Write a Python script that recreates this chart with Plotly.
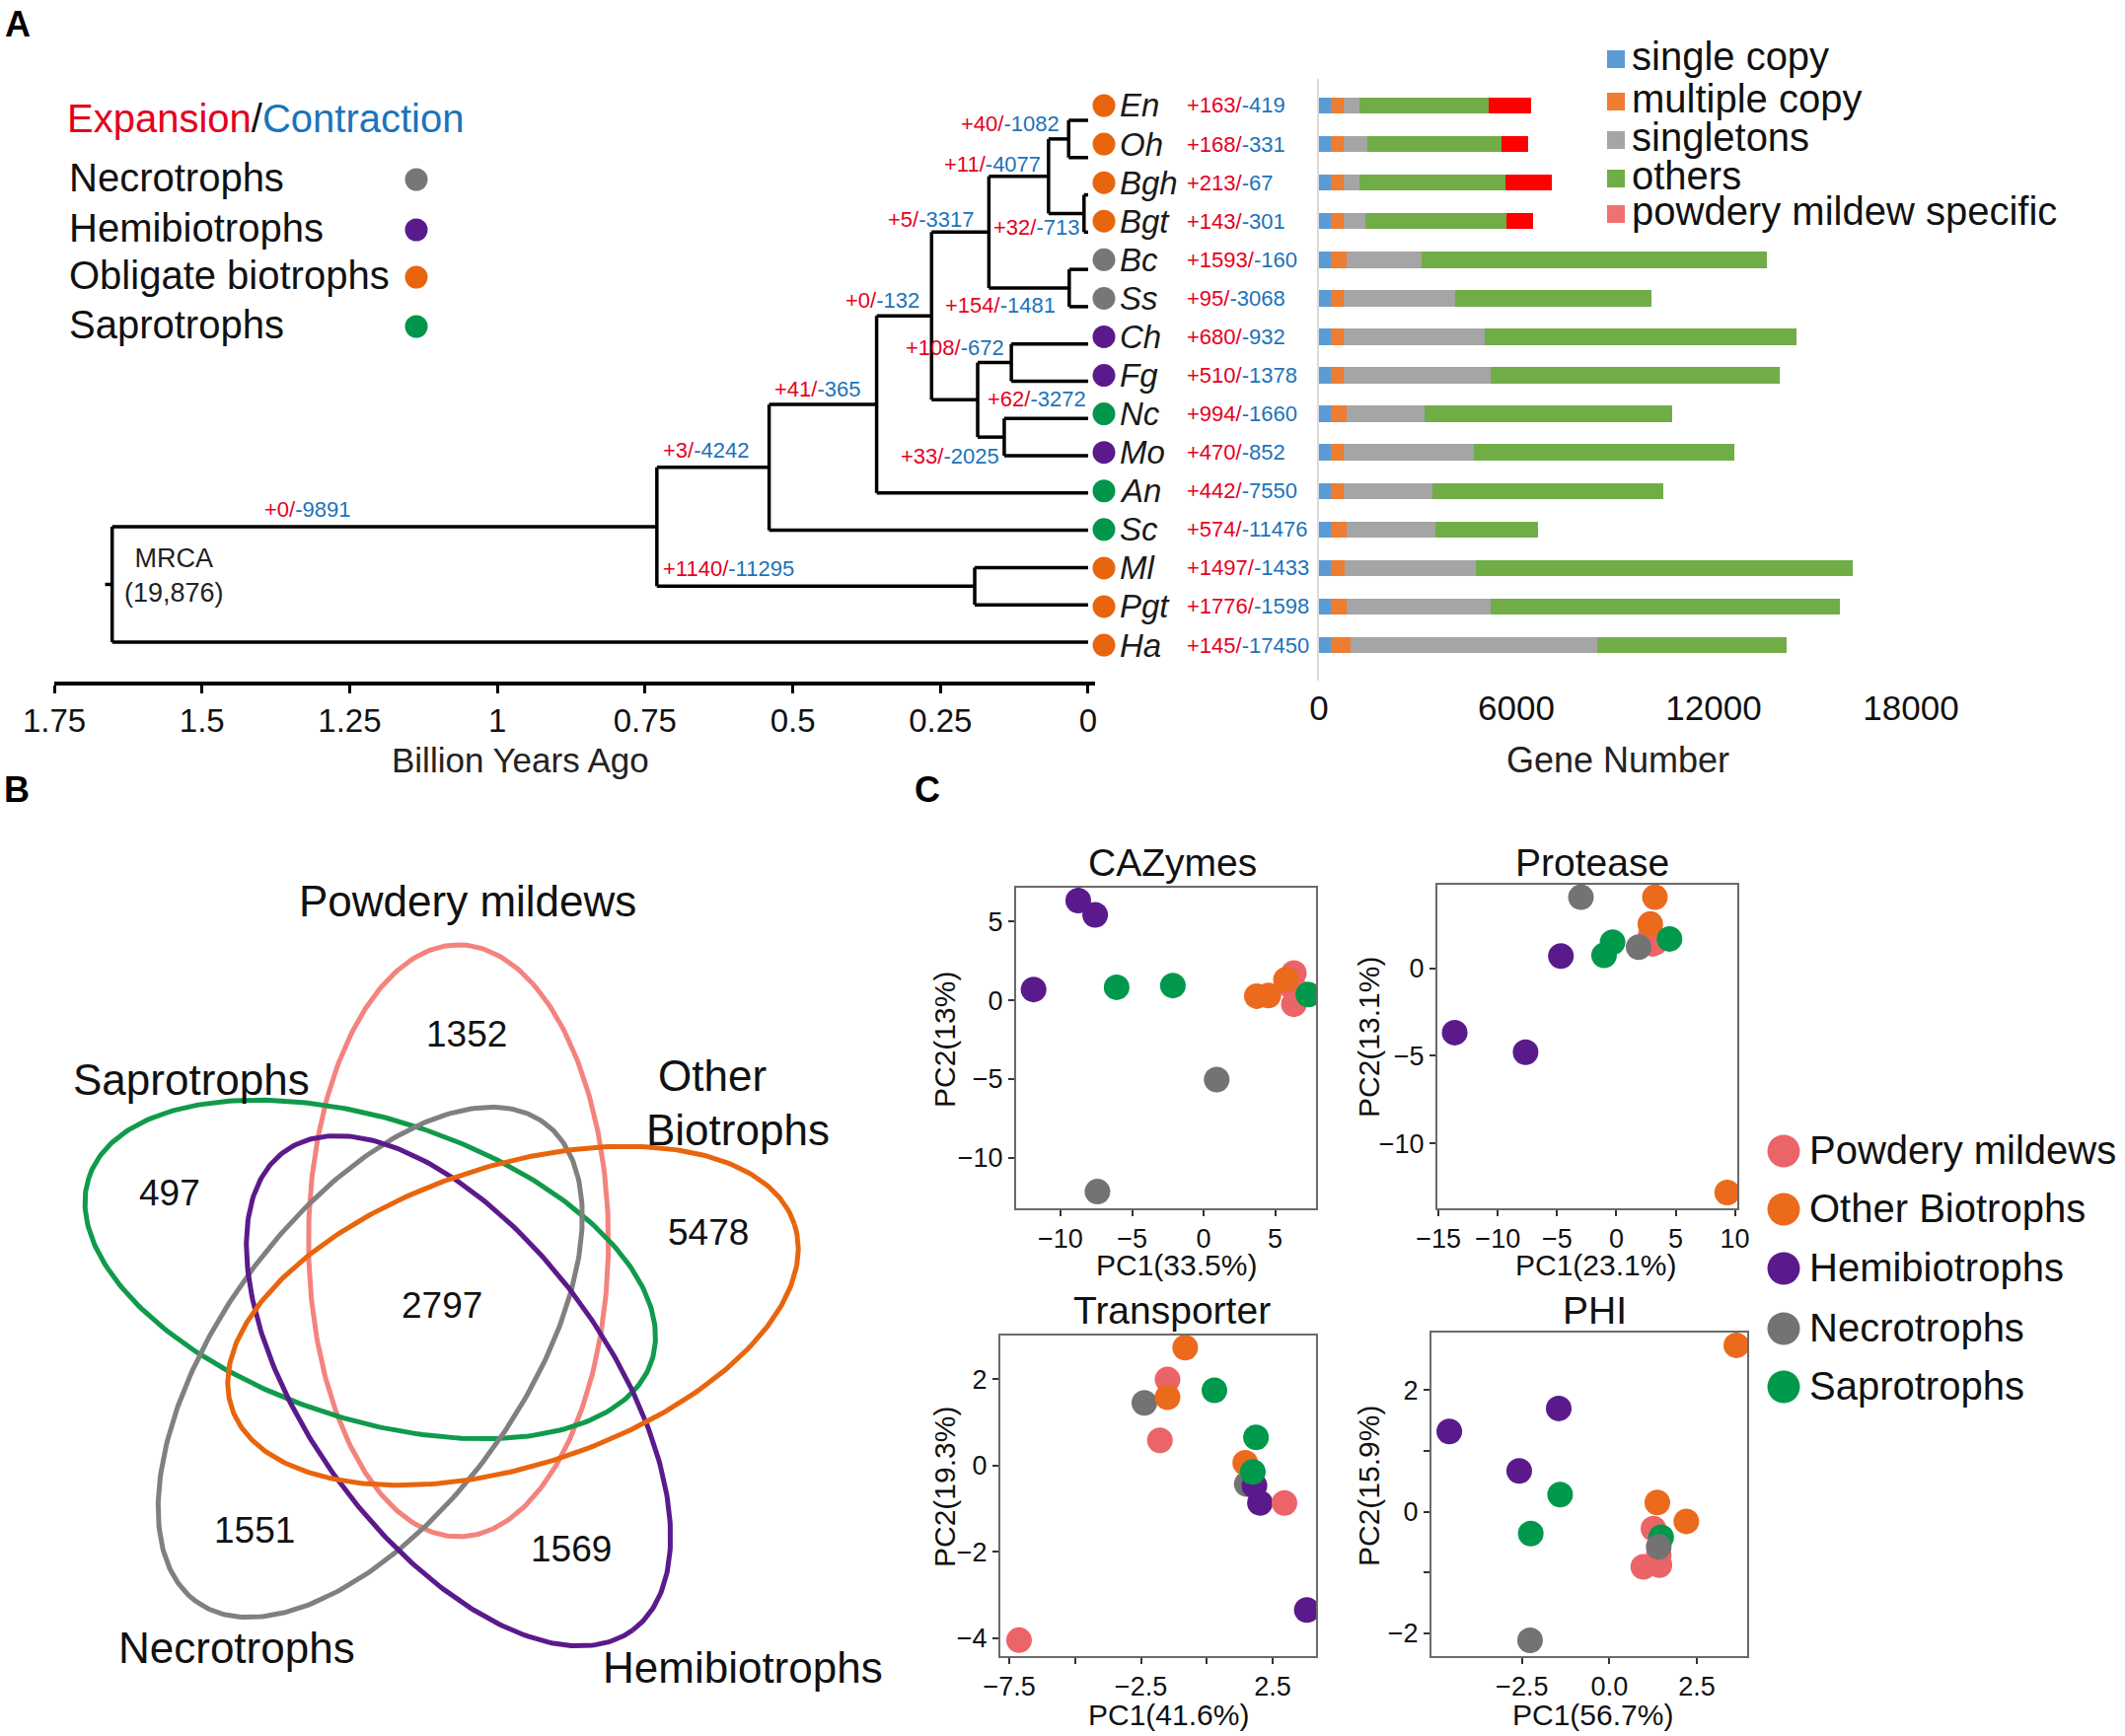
import numpy as np
import plotly.graph_objects as go

W, H = 2154, 1760
FONT = "Liberation Sans, Arial, Helvetica, sans-serif"
RED = "#e5001e"
BLUE = "#1c73b9"

# ---------------- Panel A data ----------------
species = ["En", "Oh", "Bgh", "Bgt", "Bc", "Ss", "Ch", "Fg", "Nc", "Mo", "An", "Sc", "Ml", "Pgt", "Ha"]
lifestyle = ["Obligate biotrophs", "Obligate biotrophs", "Obligate biotrophs", "Obligate biotrophs",
             "Necrotrophs", "Necrotrophs", "Hemibiotrophs", "Hemibiotrophs", "Saprotrophs",
             "Hemibiotrophs", "Saprotrophs", "Saprotrophs", "Obligate biotrophs",
             "Obligate biotrophs", "Obligate biotrophs"]
expansion = [163, 168, 213, 143, 1593, 95, 680, 510, 994, 470, 442, 574, 1497, 1776, 145]
contraction = [419, 331, 67, 301, 160, 3068, 932, 1378, 1660, 852, 7550, 11476, 1433, 1598, 17450]

bar_series = ["single copy", "multiple copy", "singletons", "others", "powdery mildew specific"]
single_copy = [360, 360, 360, 360, 360, 360, 360, 360, 360, 360, 360, 360, 360, 360, 360]
multiple_copy = [390, 390, 390, 390, 470, 390, 390, 390, 470, 390, 390, 470, 430, 490, 600]
singletons = [490, 720, 490, 650, 2280, 3400, 4290, 4480, 2390, 3950, 2700, 2700, 3970, 4370, 7500]
others = [3930, 4080, 4420, 4290, 10520, 5960, 9490, 8790, 7520, 7940, 7010, 3130, 11470, 10630, 5750]
pm_specific = [1290, 820, 1430, 820, 0, 0, 0, 0, 0, 0, 0, 0, 0, 0, 0]

# tree: (node age in billion years, children); leaves are species names
tree = (1.652, [
    (0.730, [
        (0.540, [
            (0.358, [
                (0.265, [
                    (0.168, [
                        (0.067, [(0.033, ["En", "Oh"]), (0.007, ["Bgh", "Bgt"])]),
                        (0.032, ["Bc", "Ss"]),
                    ]),
                    (0.187, [(0.130, ["Ch", "Fg"]), (0.142, ["Nc", "Mo"])]),
                ]),
                "An",
            ]),
            "Sc",
        ]),
        (0.192, ["Ml", "Pgt"]),
    ]),
    "Ha",
])

branch_gain = [0, 3, 1140, 41, 0, 5, 11, 40, 32, 154, 108, 62, 33]
branch_loss = [9891, 4242, 11295, 365, 132, 3317, 4077, 1082, 713, 1481, 672, 3272, 2025]

age_ticks = [1.75, 1.5, 1.25, 1, 0.75, 0.5, 0.25, 0]
age_tick_text = ["1.75", "1.5", "1.25", "1", "0.75", "0.5", "0.25", "0"]
gene_ticks = [0, 6000, 12000, 18000]
gene_tick_text = ["0", "6000", "12000", "18000"]

# ---------------- Panel B data ----------------
venn_sets = ["Powdery mildews", "Saprotrophs", "Necrotrophs", "Hemibiotrophs", "Other Biotrophs"]
venn_unique = [1352, 497, 1551, 1569, 5478]
venn_core = 2797

# ---------------- Panel C data ----------------
groups = ["Powdery mildews", "Other Biotrophs", "Hemibiotrophs", "Necrotrophs", "Saprotrophs"]
PM, OB, HB, NE, SA = groups

caz_x = [6.3, 6.3, 6.1, 6.5, 3.71, 4.52, 5.75, -8.76, -7.58, -11.88, 0.91, -7.42, -6.08, -2.15, 7.31]
caz_y = [1.73, -0.25, 0.9, 0.6, 0.27, 0.31, 1.31, 6.34, 5.43, 0.69, -5.03, -12.14, 0.83, 0.94, 0.37]
caz_g = [PM, PM, PM, PM, OB, OB, OB, HB, HB, HB, NE, NE, SA, SA, SA]

pro_x = [3.05, 3.3, 2.9, 3.2, 3.25, 2.86, 9.35, -4.68, -13.64, -7.66, -2.99, 1.88, 4.48, -0.32, -1.04]
pro_y = [1.41, 1.5, 1.9, 1.6, 4.08, 2.54, -12.82, 0.71, -3.67, -4.79, 4.08, 1.22, 1.69, 1.50, 0.75]
pro_g = [PM, PM, PM, PM, OB, OB, OB, HB, HB, HB, NE, NE, SA, SA, SA]

tra_x = [-2.37, -1.49, -1.49, -0.82, 0.29, -1.78, 1.46, 1.52, 1.81, 2.02, 2.95, 1.75, 1.87, 3.80, -7.13]
tra_y = [1.45, 1.99, 1.58, 2.73, 1.74, 0.58, 0.06, -0.43, -0.47, -0.87, -0.87, -0.15, 0.65, -3.35, -4.05]
tra_g = [NE, PM, OB, OB, SA, PM, OB, NE, HB, HB, PM, SA, SA, HB, PM]

phi_x = [0.97, 1.43, 1.41, 1.26, 3.63, 1.37, 2.20, -4.58, -1.45, -2.58, -1.41, -2.25, 1.48, 1.41, -2.27]
phi_y = [-0.91, -0.88, -0.72, -0.28, 2.74, 0.15, -0.16, 1.32, 1.70, 0.67, 0.28, -0.36, -0.42, -0.58, -2.12]
phi_g = [PM, PM, PM, PM, OB, OB, OB, HB, HB, HB, SA, SA, SA, NE, NE]

pca_titles = ["CAZymes", "Protease", "Transporter", "PHI"]
pc1_labels = ["PC1(33.5%)", "PC1(23.1%)", "PC1(41.6%)", "PC1(56.7%)"]
pc2_labels = ["PC2(13%)", "PC2(13.1%)", "PC2(19.3%)", "PC2(15.9%)"]
caz_xt, caz_xl = [-10, -5, 0, 5], ["\u221210", "\u22125", "0", "5"]
caz_yt, caz_yl = [-10, -5, 0, 5], ["\u221210", "\u22125", "0", "5"]
pro_xt, pro_xl = [-15, -10, -5, 0, 5, 10], ["\u221215", "\u221210", "\u22125", "0", "5", "10"]
pro_yt, pro_yl = [-10, -5, 0], ["\u221210", "\u22125", "0"]
tra_xt, tra_xl = [-7.5, -5, -2.5, 0, 2.5], ["\u22127.5", "", "\u22122.5", "", "2.5"]
tra_yt, tra_yl = [-4, -2, 0, 2], ["\u22124", "\u22122", "0", "2"]
phi_xt, phi_xl = [-2.5, 0, 2.5], ["\u22122.5", "0.0", "2.5"]
phi_yt, phi_yl = [-2, -1, 0, 1, 2], ["\u22122", "", "0", "", "2"]

# ---------------- styles ----------------
life_colors = {"Necrotrophs": "#777777", "Hemibiotrophs": "#5b1a8c",
               "Obligate biotrophs": "#e8650d", "Saprotrophs": "#00964b"}
group_colors = {PM: "#eb6468", OB: "#ec6a1c", HB: "#5b1a8c", NE: "#737373", SA: "#00994c"}
bar_colors = ["#5b9bd5", "#ed7d31", "#a5a5a5", "#70ad47", "#ff0000"]
bar_legend_colors = ["#5b9bd5", "#ed7d31", "#a5a5a5", "#70ad47", "#ef7272"]
venn_colors = ["#f4837d", "#109a4b", "#808080", "#5b1a8c", "#e8650d"]


def dom_x(a, b):
    return [a / W, b / W]


def dom_y(top, bottom):
    return [1 - bottom / H, 1 - top / H]


fig = go.Figure()
annotations = []


def ann(text, x, y, size, color="black", xanchor="center", yanchor="middle", xref="paper",
        yref="paper", angle=0, family=FONT):
    if xref == "paper":
        x = x / W
    if yref == "paper":
        y = 1 - y / H
    annotations.append(dict(text=text, x=x, y=y, xref=xref, yref=yref, showarrow=False,
                            xanchor=xanchor, yanchor=yanchor, textangle=angle,
                            font=dict(size=size, color=color, family=family)))


def gl(g, l):
    return f"<span style='color:{RED}'>+{g}/</span><span style='color:{BLUE}'>-{l}</span>"


# ---------------- Panel A : tree ----------------
tx, ty = [], []


def place(node):
    if isinstance(node, str):
        return 0.0, -species.index(node)
    age, children = node
    ys = []
    for ch in children:
        cx, cy = place(ch)
        tx.extend([age, cx, None])
        ty.extend([cy, cy, None])
        ys.append(cy)
    tx.extend([age, age, None])
    ty.extend([min(ys), max(ys), None])
    return age, (ys[0] + ys[-1]) / 2


root_age, root_y = place(tree)
tx.extend([root_age + 0.012, root_age, None])
ty.extend([root_y, root_y, None])

fig.add_trace(go.Scatter(x=tx, y=ty, mode="lines", line=dict(color="black", width=3.5),
                         xaxis="x", yaxis="y", hoverinfo="skip", showlegend=False))

branch_label_pos = [(1.322, 10.45), (0.647, 8.86), (0.608, 12.04), (0.458, 7.20), (0.348, 4.82),
                    (0.267, 2.65), (0.162, 1.19), (0.132, 0.08), (0.088, 2.88), (0.148, 4.95),
                    (0.225, 6.09), (0.087, 7.49), (0.233, 9.02)]
for (bx, by), g, l in zip(branch_label_pos, branch_gain, branch_loss):
    ann(gl(g, l), bx, -by, 22, xref="x", yref="y")

ann("MRCA<br>(19,876)", (1103 - 175) / 600, -(583.5 - 122) / 37.79, 27, color="#222", xref="x", yref="y")

# ---------------- Panel A : bars ----------------
rows = [-i for i in range(len(species))]
for name, vals, col in zip(bar_series, [single_copy, multiple_copy, singletons, others, pm_specific],
                           bar_colors):
    fig.add_trace(go.Bar(x=vals, y=rows, orientation="h", width=0.42, name=name,
                         marker=dict(color=col, line=dict(width=0)),
                         xaxis="x2", yaxis="y2", showlegend=False, hoverinfo="skip"))

fig.add_trace(go.Scatter(x=[1119] * len(species), y=rows, mode="markers",
                         marker=dict(size=23, color=[life_colors[s] for s in lifestyle]),
                         xaxis="x3", yaxis="y2", hoverinfo="skip", showlegend=False, cliponaxis=False))
for r, sp, g, l in zip(rows, species, expansion, contraction):
    ann(f"<i>{sp}</i>", 1133, r, 33, color="#1a1a1a", xanchor="left", xref="x3", yref="y2")
    ann(gl(g, l), 1201, r, 22, xanchor="left", xref="x3", yref="y2")

# ---------------- legends (overlay pixel axis) ----------------
life_order = ["Necrotrophs", "Hemibiotrophs", "Obligate biotrophs", "Saprotrophs"]
life_leg_y = [182, 233, 281, 331]
fig.add_trace(go.Scatter(x=[422] * 4, y=life_leg_y, mode="markers",
                         marker=dict(size=23, color=[life_colors[k] for k in life_order]),
                         xaxis="x9", yaxis="y9", hoverinfo="skip", showlegend=False, cliponaxis=False))
ann(f"<span style='color:{RED}'>Expansion</span>/<span style='color:{BLUE}'>Contraction</span>",
    66, 120, 40, color="#111", xanchor="left")
for k, yy in zip(life_order, life_leg_y):
    ann(k, 68, yy - 2, 40, color="#111", xanchor="left")

bar_leg_y = [60, 103, 142, 181, 217]
fig.add_trace(go.Scatter(x=[1638] * 5, y=bar_leg_y, mode="markers",
                         marker=dict(size=18, symbol="square", color=bar_legend_colors),
                         xaxis="x9", yaxis="y9", hoverinfo="skip", showlegend=False, cliponaxis=False))
for name, yy in zip(bar_series, bar_leg_y):
    ann(name, 1652, yy - 3, 40, color="#111", xanchor="left")

pc_leg_y = [1167, 1226, 1286, 1347, 1406]
fig.add_trace(go.Scatter(x=[1808] * 5, y=pc_leg_y, mode="markers",
                         marker=dict(size=33, color=[group_colors[g] for g in groups]),
                         xaxis="x9", yaxis="y9", hoverinfo="skip", showlegend=False, cliponaxis=False))
for g, yy in zip(groups, pc_leg_y):
    ann(g, 1832, yy - 1, 40, color="#111", xanchor="left")

# axis titles of panel A
ann("Billion Years Ago", 527, 771, 35, color="#222")
ann("Gene Number", 1640, 771, 36, color="#222")

# panel letters
ann("<b>A</b>", 18, 24, 36)
ann("<b>B</b>", 17, 800, 36)
ann("<b>C</b>", 940, 800, 36)

# ---------------- Panel B : Venn ----------------
VC_X, VC_Y, VR, VA, VB = 440, 1334, 80, 300, 152
t = np.linspace(0, 2 * np.pi, 361)
for k, (name, col) in enumerate(zip(venn_sets, venn_colors)):
    phi = np.radians(72 + 72 * k)
    th = phi + np.radians(18)
    cx = VC_X + VR * np.cos(phi)
    cy = VC_Y - VR * np.sin(phi)
    ex, ey = VA * np.cos(t), VB * np.sin(t)
    xs = cx + ex * np.cos(th) - ey * np.sin(th)
    ys = cy - (ex * np.sin(th) + ey * np.cos(th))
    fig.add_trace(go.Scatter(x=xs, y=ys, mode="lines", line=dict(color=col, width=5),
                             xaxis="x4", yaxis="y4", hoverinfo="skip", showlegend=False))

venn_label_pos = [(474, 913), (194, 1094), (240, 1670), (753, 1690), (700, 1117)]
for name, (lx, ly) in zip(venn_sets, venn_label_pos):
    if name == "Other Biotrophs":
        ann("Other", 722, 1090, 44, color="#111")
        ann("Biotrophs", 748, 1145, 44, color="#111")
    else:
        ann(name, lx, ly, 44, color="#111")
venn_count_pos = [(473, 1048), (172, 1209), (258, 1551), (579, 1570), (718, 1249)]
for v, (cx_, cy_) in zip(venn_unique, venn_count_pos):
    ann(str(v), cx_, cy_, 37, color="#111")
ann(str(venn_core), 448, 1323, 37, color="#111")

# ---------------- Panel C : PCA ----------------
pca_data = [(caz_x, caz_y, caz_g), (pro_x, pro_y, pro_g), (tra_x, tra_y, tra_g), (phi_x, phi_y, phi_g)]
pca_dom = [((1030, 1334), (900, 1225)), ((1457, 1761), (897, 1225)),
           ((1014, 1334), (1354, 1679)), ((1451, 1771), (1351, 1679))]
pca_range = [((-13.1, 7.85), (-13.2, 7.15)), ((-15.1, 10.2), (-13.72, 4.79)),
             ((-7.84, 4.15), (-4.42, 3.01)), ((-5.09, 3.94), (-2.38, 2.95))]
pca_ticks = [(caz_xt, caz_xl, caz_yt, caz_yl), (pro_xt, pro_xl, pro_yt, pro_yl),
             (tra_xt, tra_xl, tra_yt, tra_yl), (phi_xt, phi_xl, phi_yt, phi_yl)]
title_pos = [(1188, 874), (1614, 874), (1188, 1328), (1616, 1328)]
pc1_pos = [(1192, 1282), (1618, 1282), (1184, 1738), (1614, 1738)]
pc2_pos = [(957, 1054), (1387, 1052), (957, 1508), (1387, 1507)]

layout_axes = {}
for i, ((px, py, pg), ((x0, x1), (y0, y1)), (xr, yr), (xt, xl, yt, yl)) in enumerate(
        zip(pca_data, pca_dom, pca_range, pca_ticks)):
    n = 5 + i
    fig.add_trace(go.Scatter(x=px, y=py, mode="markers",
                             marker=dict(size=26, color=[group_colors[g] for g in pg], line=dict(width=0)),
                             xaxis=f"x{n}", yaxis=f"y{n}", hoverinfo="skip", showlegend=False))
    common = dict(showline=True, mirror=True, linecolor="#6a6a6a", linewidth=2, ticks="outside",
                  ticklen=6, tickwidth=2, tickcolor="#333", tickfont=dict(size=27, color="#111"),
                  showgrid=False, zeroline=False, automargin=False)
    layout_axes[f"xaxis{n}"] = dict(domain=dom_x(x0, x1), range=list(xr), anchor=f"y{n}",
                                    tickvals=xt, ticktext=xl, **common)
    layout_axes[f"yaxis{n}"] = dict(domain=dom_y(y0, y1), range=list(yr), anchor=f"x{n}",
                                    tickvals=yt, ticktext=yl, **common)
    ann(pca_titles[i], title_pos[i][0], title_pos[i][1], 39, color="#111")
    ann(pc1_labels[i], pc1_pos[i][0], pc1_pos[i][1], 30, color="#111")
    ann(pc2_labels[i], pc2_pos[i][0], pc2_pos[i][1], 30, color="#111", angle=-90)

# ---------------- layout ----------------
fig.update_layout(
    width=W, height=H, margin=dict(l=0, r=0, t=0, b=0, pad=0, autoexpand=False),
    paper_bgcolor="white", plot_bgcolor="rgba(0,0,0,0)",
    font=dict(family=FONT, color="#111"),
    showlegend=False, barmode="stack", bargap=0,
    xaxis=dict(domain=dom_x(55, 1110), range=[1.75, -0.0117], anchor="y", showline=True,
               linecolor="black", linewidth=3.5, ticks="outside", ticklen=8, tickwidth=3,
               tickcolor="black", tickvals=age_ticks, ticktext=age_tick_text,
               tickfont=dict(size=33, color="#111"), showgrid=False, zeroline=False, automargin=False),
    yaxis=dict(domain=dom_y(100, 691), range=[-15.06, 0.582], anchor="x", visible=False, automargin=False),
    xaxis2=dict(domain=dom_x(1337, 2000), range=[0, 19890], anchor="y2", showline=False, ticks="",
                tickvals=gene_ticks, ticktext=gene_tick_text, tickfont=dict(size=35, color="#111"),
                showgrid=False, zeroline=False, ticklabelstandoff=4, automargin=False),
    yaxis2=dict(domain=dom_y(80, 690), range=[-14.92, 0.691], anchor="x2", showline=True,
                linecolor="#dadada", linewidth=2, showticklabels=False, ticks="",
                showgrid=False, zeroline=False, automargin=False),
    xaxis3=dict(domain=dom_x(1100, 1337), range=[1100, 1337], anchor="y2", visible=False, automargin=False),
    xaxis4=dict(domain=dom_x(0, 930), range=[0, 930], anchor="y4", visible=False, automargin=False),
    yaxis4=dict(domain=dom_y(820, 1760), range=[1760, 820], anchor="x4", visible=False, automargin=False),
    xaxis9=dict(domain=[0, 1], range=[0, W], anchor="y9", visible=False, automargin=False),
    yaxis9=dict(domain=[0, 1], range=[H, 0], anchor="x9", visible=False, automargin=False),
    annotations=annotations,
    **layout_axes,
)

fig.write_html("out.html", config={"displayModeBar": False},
               post_script="document.body.style.margin='0';document.body.style.overflow='hidden';")
